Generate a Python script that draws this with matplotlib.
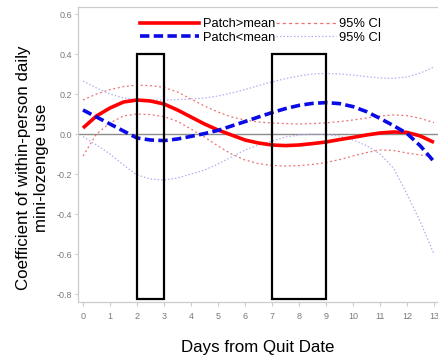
import matplotlib
matplotlib.use("Agg")
import matplotlib.pyplot as plt
from matplotlib.patches import Rectangle
from matplotlib.lines import Line2D

plt.rcParams['font.family'] = ['Liberation Sans', 'DejaVu Sans']

# Days from quit date (half-day resolution)
days = [0, 0.5, 1, 1.5, 2, 2.5, 3, 3.5, 4, 4.5, 5, 5.5, 6, 6.5, 7, 7.5,
        8, 8.5, 9, 9.5, 10, 10.5, 11, 11.5, 12, 12.5, 13]

# Patch > mean: coefficient and 95% CI
above_coef = [0.03, 0.09, 0.13, 0.16, 0.17, 0.165, 0.15, 0.12, 0.085, 0.05,
              0.02, -0.005, -0.03, -0.045, -0.055, -0.058, -0.055, -0.048,
              -0.04, -0.028, -0.017, -0.005, 0.005, 0.01, 0.008, -0.01, -0.042]
above_hi = [0.17, 0.2, 0.222, 0.237, 0.244, 0.242, 0.233, 0.21, 0.175, 0.14,
            0.11, 0.085, 0.07, 0.06, 0.055, 0.052, 0.05, 0.052, 0.056, 0.062,
            0.07, 0.08, 0.09, 0.095, 0.092, 0.078, 0.057]
above_lo = [-0.11, 0.0, 0.055, 0.09, 0.1, 0.097, 0.087, 0.063, 0.025, -0.015,
            -0.06, -0.1, -0.13, -0.148, -0.157, -0.16, -0.158, -0.152, -0.143,
            -0.128, -0.11, -0.093, -0.08, -0.082, -0.095, -0.105, -0.115]

# Patch < mean: coefficient and 95% CI
below_coef = [0.12, 0.085, 0.05, 0.015, -0.02, -0.03, -0.033, -0.025, -0.012,
              0.002, 0.018, 0.04, 0.062, 0.085, 0.107, 0.127, 0.143, 0.153,
              0.157, 0.152, 0.137, 0.112, 0.078, 0.042, 0.003, -0.06, -0.138]
below_hi = [0.265, 0.23, 0.2, 0.18, 0.172, 0.17, 0.17, 0.172, 0.175, 0.18,
            0.19, 0.205, 0.222, 0.242, 0.26, 0.277, 0.29, 0.3, 0.303, 0.3,
            0.295, 0.287, 0.28, 0.278, 0.285, 0.305, 0.335]
below_lo = [-0.013, -0.055, -0.1, -0.155, -0.205, -0.225, -0.23, -0.22, -0.2,
            -0.18, -0.15, -0.115, -0.08, -0.055, -0.035, -0.015, -0.005, 0.0,
            -0.002, -0.01, -0.03, -0.058, -0.1, -0.17, -0.3, -0.44, -0.6]

# Highlighted day windows
windows = [(2, 3), (7, 9)]
window_bottom = -0.825
window_top = 0.4

x_ticks = list(range(0, 14))
y_ticks = [-0.8, -0.6, -0.4, -0.2, 0.0, 0.2, 0.4, 0.6]

RED = '#ff0000'
BLUE = '#0a0ae6'
RED_CI = '#ee6e6e'
BLUE_CI = '#b0b0f0'

fig = plt.figure(figsize=(4.38, 3.62), dpi=100)
ax = fig.add_axes([78 / 438, 1 - 302 / 362, 360 / 438, 295 / 362])

ax.axhline(0, color='#8c8c8c', lw=1.0, zorder=1)

ax.plot(days, above_hi, color=RED_CI, lw=0.9, ls=(0, (1.5, 2.2)), zorder=2)
ax.plot(days, above_lo, color=RED_CI, lw=0.9, ls=(0, (1.5, 2.2)), zorder=2)
ax.plot(days, below_hi, color=BLUE_CI, lw=0.9, ls=(0, (1.2, 1.6)), zorder=2)
ax.plot(days, below_lo, color=BLUE_CI, lw=0.9, ls=(0, (1.2, 1.6)), zorder=2)

ax.plot(days, above_coef, color=RED, lw=2.6, solid_capstyle='butt', zorder=3)
ax.plot(days, below_coef, color=BLUE, lw=2.6, ls=(0, (2.6, 1.2)), zorder=3)

for x0, x1 in windows:
    ax.add_patch(Rectangle((x0, window_bottom), x1 - x0, window_top - window_bottom,
                           fill=False, edgecolor='black', lw=1.6, zorder=4))

ax.set_xlim(-0.185, 13.15)
ax.set_ylim(-0.84, 0.635)
ax.set_xticks(x_ticks)
ax.set_yticks(y_ticks)
ax.set_yticklabels([f'{v:.1f}' for v in y_ticks])

for side in ['left', 'bottom', 'top']:
    ax.spines[side].set_color('#cccccc')
    ax.spines[side].set_linewidth(0.9)
ax.spines['right'].set_visible(False)

ax.tick_params(axis='both', colors='#cccccc', labelcolor='#7a7a7a',
               labelsize=6.5, width=0.8)
ax.tick_params(axis='y', length=2.5, pad=2)
ax.tick_params(axis='x', length=3, pad=4)

ax.set_xlabel('Days from Quit Date', fontsize=12.2, labelpad=14)
ax.set_ylabel('Coefficient of within-person daily\nmini-lozenge use',
              fontsize=12.2, linespacing=1.3)
ax.yaxis.set_label_coords(-0.08, 0.455)

handles = [
    Line2D([], [], color=RED, lw=2.6),
    Line2D([], [], color=BLUE, lw=2.6, ls=(0, (2.6, 1.2))),
    Line2D([], [], color=RED_CI, lw=0.9, ls=(0, (2.5, 2.5))),
    Line2D([], [], color=BLUE_CI, lw=0.9, ls=(0, (1.2, 1.6))),
]
labels = ['Patch>mean', 'Patch<mean', '95% CI', '95% CI']
ax.legend(handles, labels, ncol=2, frameon=False, fontsize=9.3,
          handlelength=4.6, handletextpad=0.3, columnspacing=0.05,
          labelspacing=0.15, borderpad=0, borderaxespad=0,
          loc='upper left', bbox_to_anchor=((140 - 78) / 360, 1 - 11 / 295))

fig.savefig('out.png', dpi=100)
